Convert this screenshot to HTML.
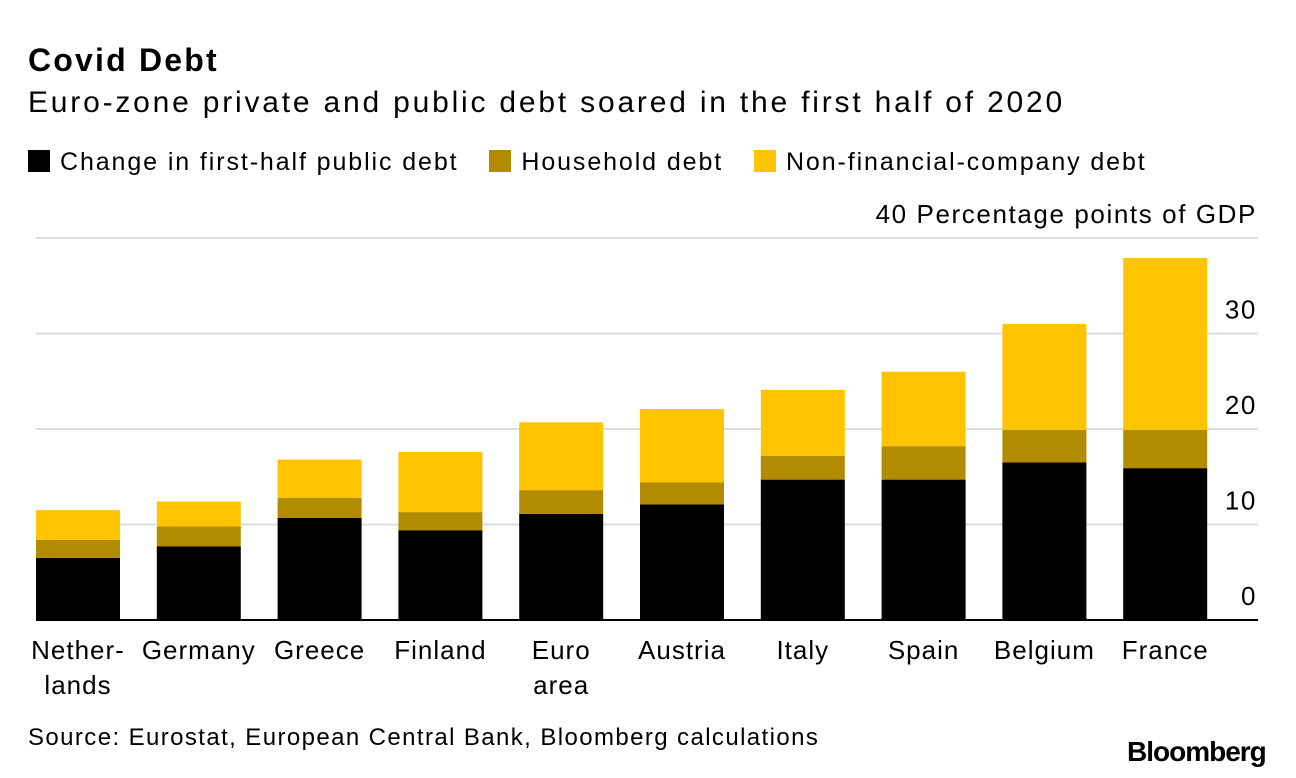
<!DOCTYPE html>
<html><head><meta charset="utf-8"><style>
body{margin:0;background:#fff;font-family:"Liberation Sans",Arial,sans-serif;}
#wrap{position:relative;width:1296px;height:778px;overflow:hidden;}
.t{position:absolute;white-space:nowrap;color:#000;}
</style></head><body>
<div id="wrap">
<div class="t" style="left:28px;top:42px;font-size:32px;font-weight:bold;letter-spacing:2.2px">Covid Debt</div>
<div class="t" style="left:28px;top:86px;font-size:30px;letter-spacing:2.8px">Euro-zone private and public debt soared in the first half of 2020</div>
<div class="t" style="left:28px;top:148px;font-size:25px;letter-spacing:1.9px">
<span><span style="display:inline-block;width:22px;height:22px;background:#000;vertical-align:-2px;margin-right:10px"></span>Change in first-half public debt</span>
<span style="margin-left:22px"><span style="display:inline-block;width:22px;height:22px;background:#b38b00;vertical-align:-2px;margin-right:10px"></span>Household debt</span>
<span style="margin-left:22px"><span style="display:inline-block;width:22px;height:22px;background:#ffc400;vertical-align:-2px;margin-right:10px"></span>Non-financial-company debt</span>
</div>
<svg id="svg" width="1296" height="778" style="position:absolute;left:0;top:0"></svg>
<div class="t" style="left:28px;top:724px;font-size:24px;letter-spacing:1.4px">Source: Eurostat, European Central Bank, Bloomberg calculations</div>
<div class="t" style="left:1127px;top:736px;font-size:28px;font-weight:bold;letter-spacing:-1px">Bloomberg</div>
</div>
<script>
const categories=[["Nether-","lands"],["Germany"],["Greece"],["Finland"],["Euro","area"],["Austria"],["Italy"],["Spain"],["Belgium"],["France"]];
const publicDebt=[6.5,7.7,10.7,9.4,11.1,12.1,14.7,14.7,16.5,15.9];
const householdDebt=[1.9,2.1,2.1,1.9,2.5,2.3,2.5,3.5,3.4,4.0];
const nfcDebt=[3.1,2.6,4.0,6.3,7.1,7.7,6.9,7.8,11.1,18.0];
const ticks=[0,10,20,30,40];
const tickLabels=["0","10","20","30","40 Percentage points of GDP"];
const svg=document.getElementById('svg');const NS="http://www.w3.org/2000/svg";
const y=v=>620-v*9.55;
const x=i=>36+i*120.8;const bw=84;
function mk(t,a){const e=document.createElementNS(NS,t);for(const k in a)e.setAttribute(k,a[k]);svg.appendChild(e);return e;}
ticks.forEach((v,i)=>{
 if(v>0){const l=mk('line',{x1:36,x2:1258,y1:y(v),y2:y(v),stroke:'#ddd','stroke-width':2});
 
 }
 const t=mk('text',{x:1257,y:y(v)-15,'text-anchor':'end','font-size':26,'letter-spacing':1.6,'font-family':'Liberation Sans, Arial, sans-serif'});
 t.textContent=tickLabels[i];
 
 
});
categories.forEach((c,i)=>{
 const segs=[[0,publicDebt[i],'#000','public'],[publicDebt[i],publicDebt[i]+householdDebt[i],'#b38b00','household'],[publicDebt[i]+householdDebt[i],publicDebt[i]+householdDebt[i]+nfcDebt[i],'#ffc400','nfc']];
 segs.forEach(s=>{const r=mk('rect',{x:x(i),width:bw,y:y(s[1]),height:y(s[0])-y(s[1]),fill:s[2]});
 
 });
 const t=mk('text',{x:x(i)+bw/2,y:659,'text-anchor':'middle','font-size':26,'letter-spacing':1,'font-family':'Liberation Sans, Arial, sans-serif'});
 c.forEach((ln,j)=>{const ts=document.createElementNS(NS,'tspan');ts.setAttribute('x',x(i)+bw/2);ts.setAttribute('dy',j?35:0);ts.textContent=ln;t.appendChild(ts);});
 
 
});
const base=mk('line',{x1:36,x2:1258,y1:620,y2:620,stroke:'#000','stroke-width':2});


</script>
</body></html>
